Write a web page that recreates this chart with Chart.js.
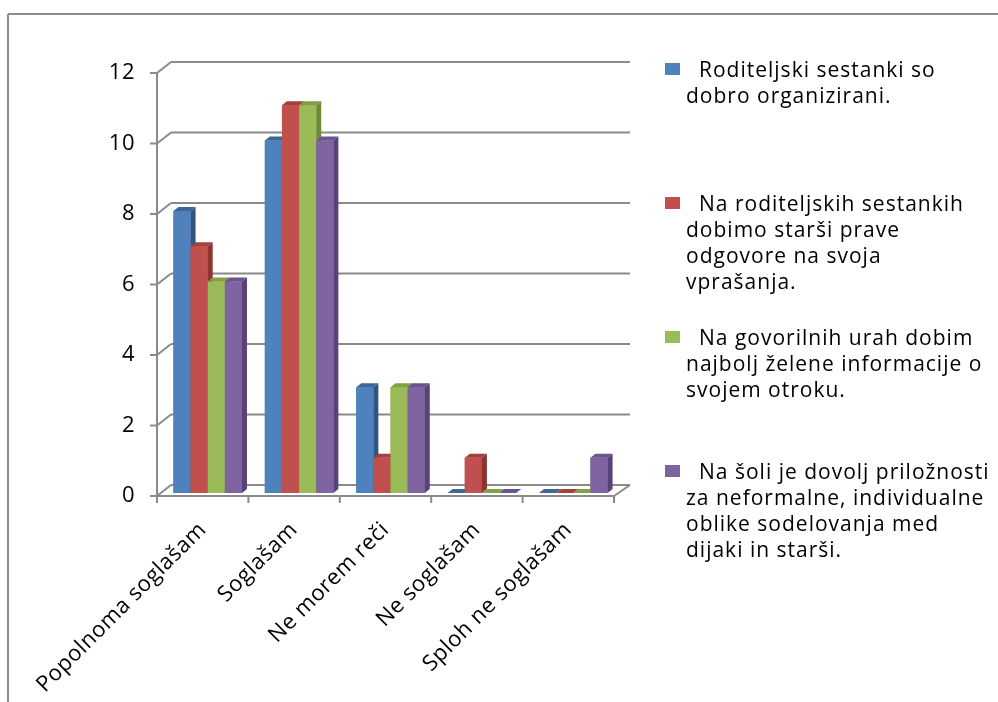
<!DOCTYPE html>
<html>
<head>
<meta charset="utf-8">
<script src="https://cdn.jsdelivr.net/npm/chart.js@4"></script>
<style>
  html, body { margin: 0; padding: 0; background: #fff; }
  #wrap { position: relative; width: 998px; height: 702px; }
  #chart { position: absolute; left: 0; top: 0; }
  .leg { position: absolute; left: 686px; font: 21px "Open Sans", sans-serif; letter-spacing: 1px; line-height: 26px; color: #000; white-space: nowrap; }
  .leg div:first-child { padding-left: 13px; }
  .sw { position: absolute; left: 665px; width: 15px; height: 12px; }
</style>
</head>
<body>
<div id="wrap">
  <canvas id="chart" width="998" height="702"></canvas>
  <div id="legend"></div>
</div>
<script>
const categories = ['Popolnoma soglašam', 'Soglašam', 'Ne morem reči', 'Ne soglašam', 'Sploh ne soglašam']
// series names, split into the lines the legend shows
const seriesNames = [
    ['Roditeljski sestanki so', 'dobro organizirani.'],
    ['Na roditeljskih sestankih', 'dobimo starši prave', 'odgovore na svoja', 'vprašanja.'],
    ['Na govorilnih urah dobim', 'najbolj želene informacije o', 'svojem otroku.'],
    ['Na šoli je dovolj priložnosti', 'za neformalne, individualne', 'oblike sodelovanja med', 'dijaki in starši.'],
]
const organizirani = [8, 10, 3, 0, 0]
const odgovori = [7, 11, 1, 1, 0]
const informacije = [6, 11, 3, 0, 0]
const priloznosti = [6, 10, 3, 0, 1]
const yTicks = [0, 2, 4, 6, 8, 10, 12]

const fronts = ['#4f81bd', '#c0504d', '#9bbb59', '#8064a2']
const sides = ['#2f5485', '#8e3330', '#6f8a37', '#57437a']
const tops = ['#3d6699', '#a5403d', '#82a043', '#6a5390']

// legend, laid out like the Excel one
const legendTops = [56, 190, 324, 458]
const legend = document.getElementById('legend')
seriesNames.forEach((lines, i) => {
    const sw = document.createElement('div')
    sw.className = 'sw'
    sw.style.top = (legendTops[i] + 7) + 'px'
    sw.style.background = fronts[i]
    legend.appendChild(sw)
    const t = document.createElement('div')
    t.className = 'leg'
    t.style.top = legendTops[i] + 'px'
    lines.forEach(s => {
        const l = document.createElement('div')
        l.textContent = s
        t.appendChild(l)
    })
    legend.appendChild(t)
})

const back = { dx: 14, dy: -11 }
const shift = { dx: 5, dy: -3 }
const bar3d = { dx: 5, dy: -4 }
const gridColor = '#8a8a8a'

function line(ctx, x1, y1, x2, y2) {
    ctx.beginPath()
    ctx.moveTo(x1, y1)
    ctx.lineTo(x2, y2)
    ctx.stroke()
}

const walls = {
    id: 'walls',
    beforeDraw(chart) {
        const ctx = chart.ctx
        ctx.letterSpacing = '0.5px'
        ctx.save()
        ctx.strokeStyle = '#8c8c8c'
        ctx.lineWidth = 2
        line(ctx, 8, 14, 998, 14)
        line(ctx, 8, 14, 8, 702)
        ctx.restore()
    },
    beforeDatasetsDraw(chart) {
        const ctx = chart.ctx
        const { left, right, bottom } = chart.chartArea
        const y = chart.scales.y
        ctx.save()
        ctx.strokeStyle = gridColor
        ctx.lineWidth = 2
        yTicks.forEach(v => {
            const py = y.getPixelForValue(v)
            line(ctx, left, py, left + back.dx, py + back.dy)
            line(ctx, left + back.dx, py + back.dy, right + back.dx + 2, py + back.dy)
            line(ctx, left - 7, py, left, py)
        })
        line(ctx, left, y.getPixelForValue(12), left, bottom)
        line(ctx, left, bottom, right, bottom)
        line(ctx, right, bottom, right + back.dx + 2, bottom + back.dy)
        const x = chart.scales.x
        const w = (x.getPixelForValue(1) - x.getPixelForValue(0))
        for (let i = 0; i <= categories.length; i++) {
            const px = left + i * w
            line(ctx, px, bottom, px, bottom + 7)
        }
        ctx.restore()
        ctx.save()
        ctx.translate(shift.dx, shift.dy)
    },
    afterDatasetsDraw(chart) {
        const ctx = chart.ctx
        for (let c = 0; c < categories.length; c++) {
            for (let d = 0; d < chart.data.datasets.length; d++) {
                const el = chart.getDatasetMeta(d).data[c]
                const p = el.getProps(['x', 'y', 'base', 'width'], true)
                const x1 = p.x - p.width / 2, x2 = p.x + p.width / 2
                ctx.fillStyle = fronts[d]
                ctx.fillRect(x1, p.y, x2 - x1, p.base - p.y)
                ctx.fillStyle = tops[d]
                ctx.beginPath()
                ctx.moveTo(x1, p.y)
                ctx.lineTo(x2, p.y)
                ctx.lineTo(x2 + bar3d.dx, p.y + bar3d.dy)
                ctx.lineTo(x1 + bar3d.dx, p.y + bar3d.dy)
                ctx.closePath()
                ctx.fill()
                ctx.fillStyle = sides[d]
                ctx.beginPath()
                ctx.moveTo(x2, p.y)
                ctx.lineTo(x2 + bar3d.dx, p.y + bar3d.dy)
                ctx.lineTo(x2 + bar3d.dx, p.base + bar3d.dy)
                ctx.lineTo(x2, p.base)
                ctx.closePath()
                ctx.fill()
            }
        }
        ctx.restore()
    }
}

Chart.defaults.font.family = 'Open Sans'
Chart.defaults.font.size = 22
Chart.defaults.color = '#000'

new Chart(document.getElementById('chart'), {
    type: 'bar',
    data: {
        labels: categories,
        datasets: [
            { label: seriesNames[0].join(' '), data: organizirani, backgroundColor: fronts[0] },
            { label: seriesNames[1].join(' '), data: odgovori, backgroundColor: fronts[1] },
            { label: seriesNames[2].join(' '), data: informacije, backgroundColor: fronts[2] },
            { label: seriesNames[3].join(' '), data: priloznosti, backgroundColor: fronts[3] },
        ]
    },
    options: {
        responsive: false,
        animation: false,
        events: [],
        categoryPercentage: 0.75,
        barPercentage: 1.0,
        layout: { padding: { left: 100, top: 73, right: 384, bottom: 0 } },
        plugins: { legend: { display: false }, tooltip: { enabled: false } },
        scales: {
            x: {
                grid: { display: false },
                border: { display: false },
                ticks: { minRotation: 45, maxRotation: 45, padding: 13, autoSkip: false },
                afterFit(scale) { scale.height = 206 },
            },
            y: {
                min: 0,
                max: 12,
                grid: { display: false },
                border: { display: false },
                ticks: { stepSize: 2, padding: 14 },
                afterFit(scale) { scale.width = 57 },
            }
        }
    },
    plugins: [walls]
})
</script>
</body>
</html>
